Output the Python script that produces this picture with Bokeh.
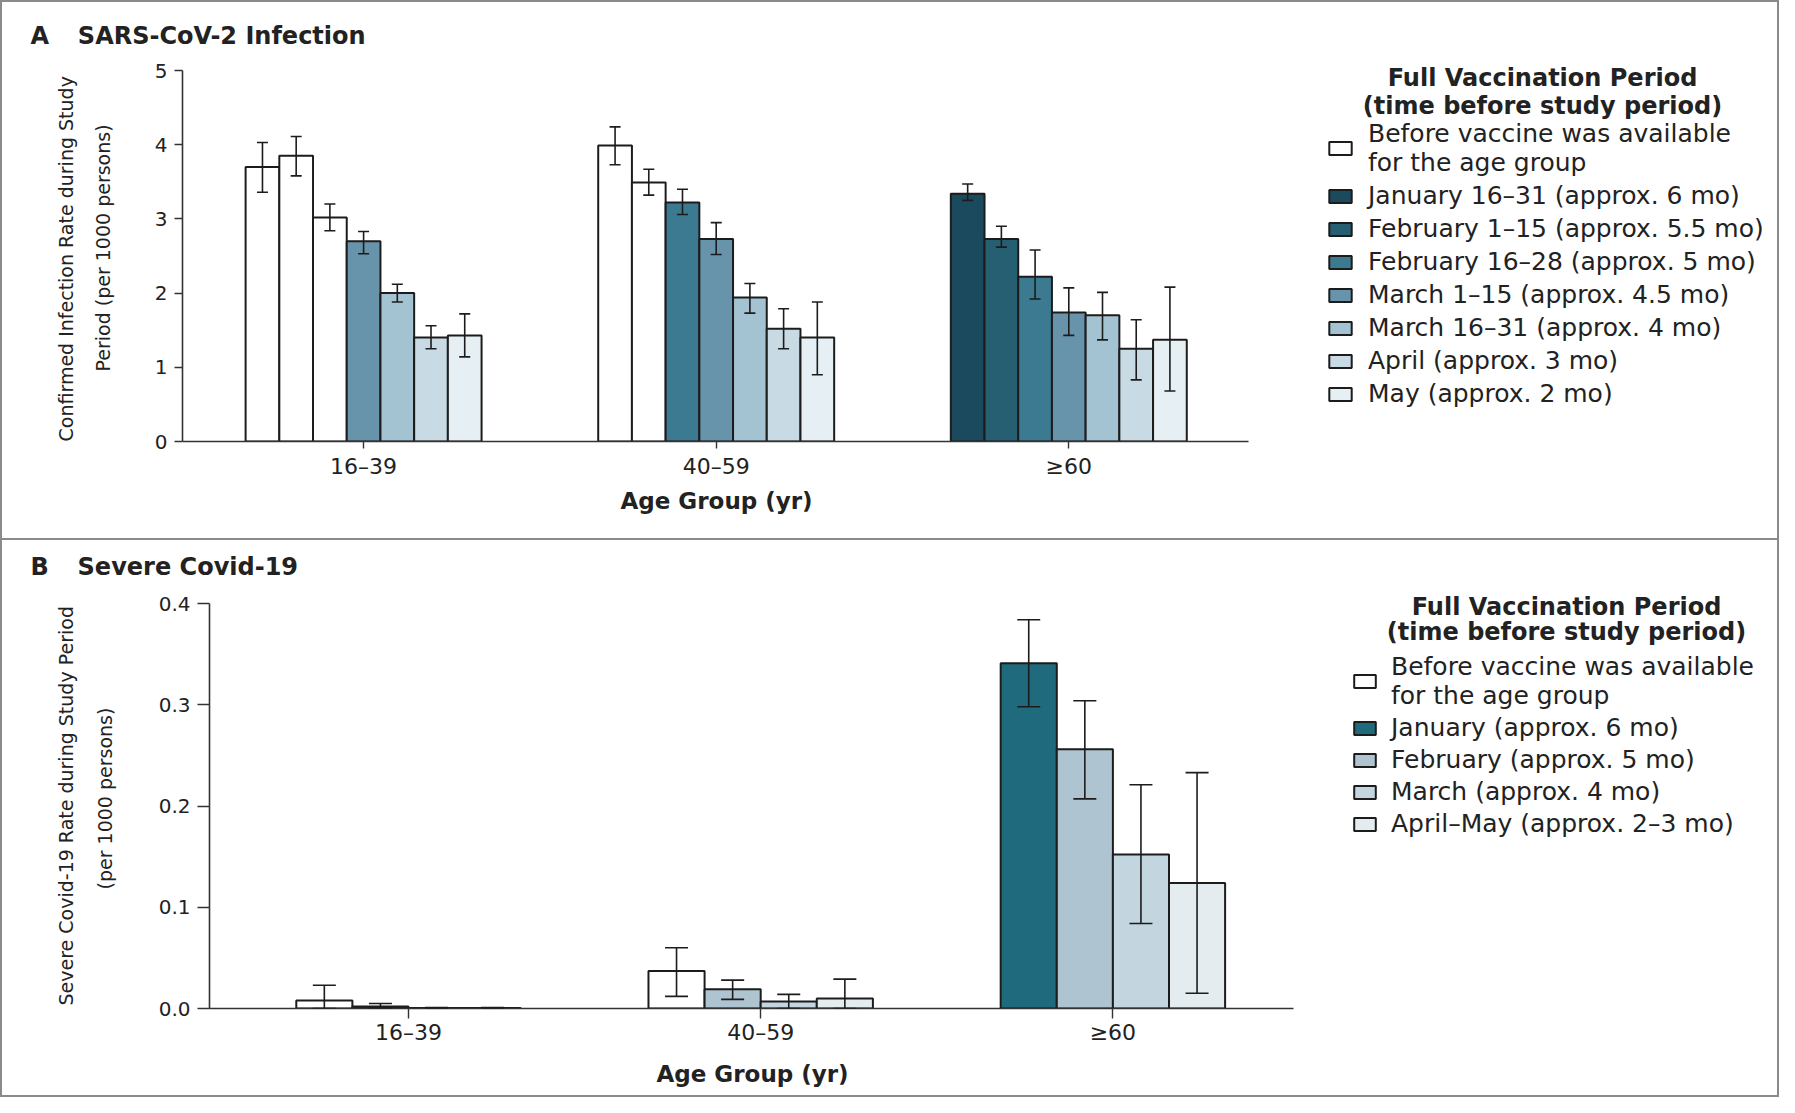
import numpy as np
from bokeh.plotting import figure
from bokeh.models import (ColumnDataSource, Range1d, FixedTicker, Whisker, TeeHead,
                          Label, Legend, LegendItem, PrintfTickFormatter, Title)
from bokeh.layouts import column
from bokeh.embed import file_html
from bokeh.resources import INLINE

# ---------------- data ----------------
age_groups = ["16–39", "40–59", "≥60"]

# Panel A: confirmed infection rate (per 1000 persons), 7 full-vaccination periods per group
legend_a = ["Before vaccine was available\nfor the age group",
            "January 16–31 (approx. 6 mo)",
            "February 1–15 (approx. 5.5 mo)",
            "February 16–28 (approx. 5 mo)",
            "March 1–15 (approx. 4.5 mo)",
            "March 16–31 (approx. 4 mo)",
            "April (approx. 3 mo)",
            "May (approx. 2 mo)"]
colors_a = ["#ffffff", "#1b4a5e", "#265f72", "#3c7a91", "#6894ab", "#a4c3d2", "#c8dae3", "#e6eff3"]
before_a = [3, 2, 0]   # periods before vaccine was available, per age group

infection_16_39 = [3.70, 3.85, 3.02, 2.70, 2.00, 1.40, 1.43]
infection_16_39_lo = [3.36, 3.58, 2.84, 2.53, 1.88, 1.25, 1.14]
infection_16_39_hi = [4.03, 4.11, 3.20, 2.83, 2.12, 1.56, 1.72]
infection_40_59 = [3.99, 3.49, 3.22, 2.73, 1.94, 1.52, 1.40]
infection_40_59_lo = [3.73, 3.32, 3.06, 2.52, 1.73, 1.25, 0.90]
infection_40_59_hi = [4.24, 3.67, 3.40, 2.95, 2.13, 1.79, 1.88]
infection_60 = [3.34, 2.73, 2.22, 1.74, 1.70, 1.25, 1.37]
infection_60_lo = [3.25, 2.62, 1.92, 1.43, 1.37, 0.83, 0.68]
infection_60_hi = [3.47, 2.90, 2.58, 2.07, 2.01, 1.64, 2.08]
yticks_a = [0, 1, 2, 3, 4, 5]

# Panel B: severe Covid-19 rate (per 1000 persons), 4 periods per group
legend_b = ["Before vaccine was available\nfor the age group",
            "January (approx. 6 mo)",
            "February (approx. 5 mo)",
            "March (approx. 4 mo)",
            "April–May (approx. 2–3 mo)"]
colors_b = ["#ffffff", "#1f6a7c", "#aec5d1", "#c3d5de", "#e4ecf0"]
before_b = [2, 1, 0]

severe_16_39 = [0.008, 0.002, 0.0006, 0.0006]
severe_16_39_lo = [0.0, 0.0005, 0.0, 0.0]
severe_16_39_hi = [0.023, 0.005, 0.001, 0.001]
severe_40_59 = [0.037, 0.019, 0.007, 0.010]
severe_40_59_lo = [0.012, 0.009, 0.0, 0.0]
severe_40_59_hi = [0.060, 0.028, 0.014, 0.029]
severe_60 = [0.341, 0.256, 0.152, 0.124]
severe_60_lo = [0.298, 0.207, 0.084, 0.015]
severe_60_hi = [0.384, 0.304, 0.221, 0.233]
yticks_b = [0.0, 0.1, 0.2, 0.3, 0.4]

FONT = "DejaVu Sans"
TXT = "#222222"
BORDER = "2px solid #8a8a8a"


def make_panel(cfg, vals, los, his, before, colors, legend_labels, yticks, y_fmt=None):
    p = figure(width=cfg["w"], height=cfg["h"],
               x_range=Range1d(*cfg["xr"]), y_range=Range1d(*cfg["yr"]),
               output_backend="svg", toolbar_location=None, frame_align=False,
               min_border_left=cfg["mb_l"], min_border_right=0,
               min_border_top=cfg["mb_t"], min_border_bottom=cfg["mb_b"])
    p.outline_line_color = None
    p.grid.visible = False
    p.background_fill_color = "white"
    p.border_fill_color = "white"

    # panel title (above, shifted left past the y axis)
    p.title.text = cfg["title"]
    p.title.align = "left"
    p.title.offset = cfg["title_off"]
    p.title.standoff = cfg["title_so"]
    p.title.text_font = FONT
    p.title.text_font_size = "24px"
    p.title.text_font_style = "bold"
    p.title.text_color = TXT

    bar_w = cfg["bar_w"]
    n = len(vals[0])
    cat_x = {k: [] for k in range(len(legend_labels))}
    cat_top = {k: [] for k in range(len(legend_labels))}
    wx, wlo, whi = [], [], []
    for g in range(len(vals)):
        for i in range(n):
            x = g + 1 + (i - (n - 1) / 2) * bar_w
            c = 0 if i < before[g] else i + 1
            cat_x[c].append(x)
            cat_top[c].append(vals[g][i])
            wx.append(x)
            wlo.append(los[g][i])
            whi.append(his[g][i])

    renderers = []
    for c in range(len(legend_labels)):
        src = ColumnDataSource(dict(x=cat_x[c], top=cat_top[c]))
        r = p.vbar(x="x", top="top", bottom=0, width=bar_w, source=src,
                   fill_color=colors[c], line_color="#1c1c1c", line_width=2)
        renderers.append(r)

    head = cfg["head"]
    wsrc = ColumnDataSource(dict(x=wx, lo=wlo, hi=whi))
    p.add_layout(Whisker(source=wsrc, base="x", lower="lo", upper="hi", dimension="height",
                         level="overlay", line_color="#1c1c1c", line_width=1.6,
                         upper_head=TeeHead(size=head, line_color="#1c1c1c", line_width=1.6),
                         lower_head=TeeHead(size=head, line_color="#1c1c1c", line_width=1.6)))

    # axes
    xa, ya = p.xaxis[0], p.yaxis[0]
    xa.bounds = cfg["xb"]
    ya.bounds = cfg["yb"]
    xa.ticker = FixedTicker(ticks=[1, 2, 3])
    xa.major_label_overrides = {i + 1: g for i, g in enumerate(age_groups)}
    ya.ticker = FixedTicker(ticks=yticks)
    if y_fmt:
        ya.formatter = PrintfTickFormatter(format=y_fmt)
    for ax in (xa, ya):
        ax.axis_line_color = "#333333"
        ax.axis_line_width = 1.6
        ax.major_tick_line_color = "#333333"
        ax.major_tick_line_width = 1.4
        ax.major_tick_in = 0
        ax.minor_tick_in = 0
        ax.minor_tick_out = 0
        ax.major_label_text_font = FONT
        ax.major_label_text_color = TXT
    ya.major_tick_out = cfg["tick_y"]
    ya.major_label_text_font_size = "20px"
    ya.major_label_standoff = 7
    # second line of the y title sits in the axis itself, first line is a left Title
    ya.axis_label = cfg["ylab2"]
    ya.axis_label_text_font = FONT
    ya.axis_label_text_font_size = "19px"
    ya.axis_label_text_font_style = "normal"
    ya.axis_label_text_color = TXT
    ya.axis_label_standoff = cfg["ylab2_so"]
    p.add_layout(Title(text=cfg["ylab1"], align="left", offset=cfg["ylab1_off"],
                       standoff=cfg["ylab1_so"], text_font=FONT, text_font_size="19px",
                       text_font_style="normal", text_color=TXT), "left")

    xa.major_tick_out = cfg["tick_x"]
    xa.major_label_text_font_size = "22px"
    xa.major_label_standoff = cfg["xlab_so"]
    p.add_layout(Title(text="Age Group (yr)", align="left", offset=cfg["xt_off"],
                       standoff=cfg["xt_so"], text_font=FONT, text_font_size="23px",
                       text_font_style="bold", text_color=TXT), "below")
    return p, renderers


def lab(p, fl, fb, X, Y, text, size="24px", bold=True, align="center"):
    p.add_layout(Label(x=X - fl, y=fb - Y, x_units="screen", y_units="screen", text=text,
                       text_font=FONT, text_font_size=size,
                       text_font_style="bold" if bold else "normal",
                       text_color=TXT, text_align=align, text_baseline="middle"))


def add_legend(p, renderers, labels, x, y, glyph_w, standoff, spacing):
    items = [LegendItem(label=l, renderers=[r]) for l, r in zip(labels, renderers)]
    leg = Legend(items=items, location=(x, y), glyph_width=glyph_w, glyph_height=16,
                 label_standoff=standoff, spacing=spacing, padding=0, margin=0,
                 border_line_alpha=0, background_fill_alpha=0,
                 label_text_font=FONT, label_text_font_size="25px", label_text_color=TXT,
                 label_text_line_height=0.8, label_height=16)
    p.add_layout(leg)


# ---------------- panel A ----------------
# page coordinates; canvas sits 2px inside the CSS border
FLa, FBa = 182, 441
cfg_a = dict(w=1779, h=538, mb_l=180, mb_t=52, mb_b=99,
             xr=(0.4864, 0.4864 + (1781 - 182) / 352.6), yr=(0, (441 - 54) / 74.2),
             xb=(0.4864, 3.5105), yb=(0, 5), bar_w=0.0956, head=11,
             title="A\u2003\u2009SARS-CoV-2 Infection", title_off=30 - 182, title_so=10,
             tick_y=8, tick_x=7, xlab_so=5,
             ylab1="Confirmed Infection Rate during Study", ylab1_off=0, ylab1_so=24,
             ylab2="Period (per 1000 persons)", ylab2_so=38,
             xt_off=438, xt_so=9)
pa, ra = make_panel(cfg_a, [infection_16_39, infection_40_59, infection_60],
                    [infection_16_39_lo, infection_40_59_lo, infection_60_lo],
                    [infection_16_39_hi, infection_40_59_hi, infection_60_hi],
                    before_a, colors_a, legend_a, yticks_a)
lab(pa, FLa, FBa, 1542, 77, "Full Vaccination Period")
lab(pa, FLa, FBa, 1542, 105, "(time before study period)")
add_legend(pa, ra, legend_a, 1326 - FLa, 33, 28, 14, 4)
pa.styles = {"border-top": BORDER, "border-left": BORDER, "border-right": BORDER,
             "box-sizing": "border-box"}

# ---------------- panel B ----------------
FLb, FBb = 209, 1008
cfg_b = dict(w=1779, h=559, mb_l=207, mb_t=48, mb_b=91,
             xr=(0.435, 0.435 + (1781 - 209) / 352.2), yr=(0, (1008 - 588) / 1012.5),
             xb=(0.435, 3.5128), yb=(0, 0.4), bar_w=0.1593, head=23,
             title="B\u2003\u2009Severe Covid-19", title_off=30 - 209, title_so=15,
             tick_y=12, tick_x=10, xlab_so=1,
             ylab1="Severe Covid-19 Rate during Study Period", ylab1_off=3, ylab1_so=28,
             ylab2="(per 1000 persons)", ylab2_so=40,
             xt_off=447, xt_so=22)
pb, rb = make_panel(cfg_b, [severe_16_39, severe_40_59, severe_60],
                    [severe_16_39_lo, severe_40_59_lo, severe_60_lo],
                    [severe_16_39_hi, severe_40_59_hi, severe_60_hi],
                    before_b, colors_b, legend_b, yticks_b, y_fmt="%.1f")
lab(pb, FLb, FBb, 1566, 606, "Full Vaccination Period")
lab(pb, FLb, FBb, 1566, 631, "(time before study period)")
add_legend(pb, rb, legend_b, 1351 - FLb, 170, 27, 13, 3)
pb.styles = {"border-top": BORDER, "border-left": BORDER, "border-right": BORDER,
             "border-bottom": BORDER, "box-sizing": "border-box"}

layout = column(pa, pb)
open("out.html", "w").write(file_html(layout, INLINE))
